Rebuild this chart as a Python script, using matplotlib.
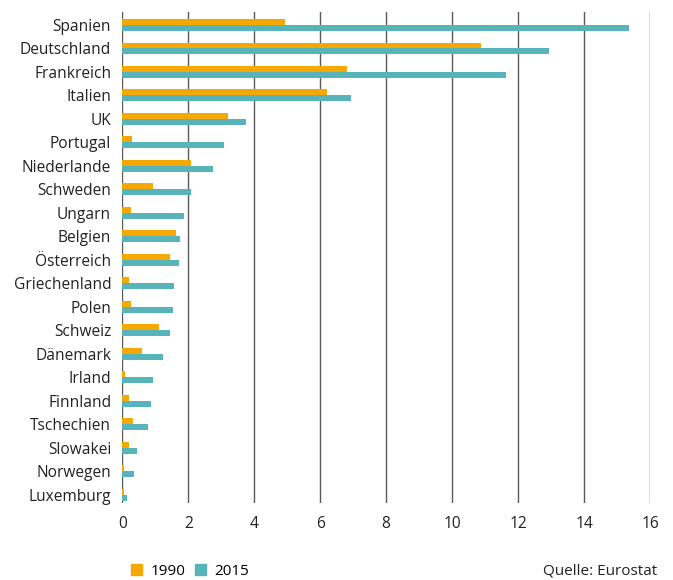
import matplotlib
matplotlib.use("Agg")
import matplotlib.pyplot as plt
from matplotlib.patches import Patch
import numpy as np

plt.rcParams['font.family'] = ['Open Sans', 'DejaVu Sans']

countries = ["Spanien", "Deutschland", "Frankreich", "Italien", "UK", "Portugal",
             "Niederlande", "Schweden", "Ungarn", "Belgien", "Österreich",
             "Griechenland", "Polen", "Schweiz", "Dänemark", "Irland", "Finnland",
             "Tschechien", "Slowakei", "Norwegen", "Luxemburg"]
values_1990 = [4.93, 10.89, 6.82, 6.21, 3.20, 0.29, 2.09, 0.93, 0.26, 1.63, 1.45,
               0.20, 0.26, 1.12, 0.60, 0.08, 0.20, 0.32, 0.20, 0.04, 0.04]
values_2015 = [15.35, 12.95, 11.62, 6.94, 3.75, 3.07, 2.76, 2.09, 1.88, 1.76, 1.73,
               1.57, 1.54, 1.45, 1.24, 0.93, 0.87, 0.78, 0.44, 0.35, 0.14]
xticks = [0, 2, 4, 6, 8, 10, 12, 14, 16]

orange = "#F5A800"
teal = "#56B4BA"

fig = plt.figure(figsize=(6.73, 5.8), dpi=100)
ax = fig.add_axes([0.1817, 0.1322, 0.7841, 0.8476])

y = np.arange(len(countries))
h = 0.255
ax.barh(y - h / 2, values_1990, height=h, color=orange, zorder=3)
ax.barh(y + h / 2, values_2015, height=h, color=teal, zorder=3)

ax.set_xlim(0, 16)
ax.set_ylim(len(countries) - 1 + 0.366, -0.566)
ax.set_xticks(xticks)
ax.set_xticklabels([str(t) for t in xticks])
ax.set_yticks(y)
ax.set_yticklabels(countries)

for t in xticks:
    ax.axvline(t, color="#5a5a5a", lw=1.0, zorder=1)

for s in ax.spines.values():
    s.set_visible(False)
ax.tick_params(axis="both", length=0, labelsize=11.2, colors="#222222")
ax.tick_params(axis="y", pad=8)
ax.tick_params(axis="x", pad=9)

handles = [Patch(color=orange, label="1990"), Patch(color=teal, label="2015")]
fig.legend(handles=handles, loc="center left", bbox_to_anchor=(0.1951, 0.0155),
           ncol=2, frameon=False, fontsize=11, handlelength=0.72, handleheight=0.72,
           handletextpad=0.56, columnspacing=0.59, borderaxespad=0, borderpad=0)
fig.text(0.977, 0.0155, "Quelle: Eurostat", ha="right", va="center", fontsize=11,
         color="#222222")

fig.savefig("out.png", dpi=100)
